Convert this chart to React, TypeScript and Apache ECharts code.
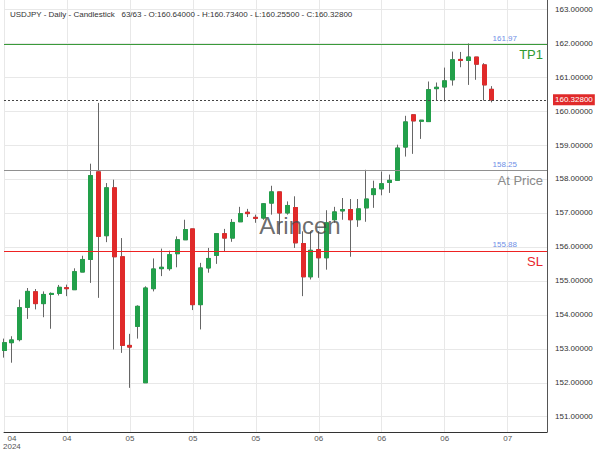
import React, { useEffect, useRef } from 'react';
import * as echarts from 'echarts';

const symbol = 'USDJPY';
const dates = [
  '2024-04-11', '2024-04-12', '2024-04-15', '2024-04-16', '2024-04-17', '2024-04-18', '2024-04-19',
  '2024-04-22', '2024-04-23', '2024-04-24', '2024-04-25', '2024-04-26', '2024-04-29', '2024-04-30',
  '2024-05-01', '2024-05-02', '2024-05-03', '2024-05-06', '2024-05-07', '2024-05-08', '2024-05-09',
  '2024-05-10', '2024-05-13', '2024-05-14', '2024-05-15', '2024-05-16', '2024-05-17', '2024-05-20',
  '2024-05-21', '2024-05-22', '2024-05-23', '2024-05-24', '2024-05-27', '2024-05-28', '2024-05-29',
  '2024-05-30', '2024-05-31', '2024-06-03', '2024-06-04', '2024-06-05', '2024-06-06', '2024-06-07',
  '2024-06-10', '2024-06-11', '2024-06-12', '2024-06-13', '2024-06-14', '2024-06-17', '2024-06-18',
  '2024-06-19', '2024-06-20', '2024-06-21', '2024-06-24', '2024-06-25', '2024-06-26', '2024-06-27',
  '2024-06-28', '2024-07-01', '2024-07-02', '2024-07-03', '2024-07-04', '2024-07-05', '2024-07-08',
  '2024-07-09', '2024-07-10', '2024-07-11', '2024-07-12', '2024-07-15', '2024-07-16', '2024-07-17',
];

const opens = [
  152.95, 153.18, 153.27, 154.22, 154.68, 154.33, 154.60, 154.63, 154.80, 154.74,
  155.26, 155.63, 158.21, 156.33, 157.74, 155.71, 153.10, 153.66, 152.00, 154.77,
  155.36, 155.36, 155.80, 156.21, 156.53, 154.30, 155.38, 155.75, 156.39, 156.26,
  156.74, 157.02, 156.87, 156.85, 157.29, 157.62, 157.00, 157.16, 156.10, 155.12,
  155.92, 155.68, 156.80, 157.06, 157.10, 156.80, 157.15, 157.54, 157.71, 157.90,
  157.96, 158.94, 159.89, 159.70, 159.69, 160.66, 160.71, 160.92, 161.52, 161.49,
  161.59, 161.36, 160.64,
];
const highs = [
  153.30, 153.37, 154.45, 154.79, 154.76, 154.69, 154.66, 154.88, 154.89, 155.37,
  155.74, 158.45, 160.24, 157.88, 157.98, 156.26, 153.44, 154.28, 154.84, 155.66,
  155.95, 155.89, 156.31, 156.80, 156.53, 155.53, 155.97, 156.39, 156.53, 156.82,
  157.18, 157.12, 156.95, 157.29, 157.80, 157.62, 157.34, 157.49, 156.46, 156.46,
  156.46, 157.08, 157.18, 157.44, 157.41, 157.41, 158.27, 157.95, 158.22, 158.13,
  159.01, 159.86, 159.91, 159.74, 160.87, 160.84, 161.28, 161.75, 161.74, 161.99,
  161.59, 161.41, 160.734,
];
const lows = [
  152.74, 152.59, 153.22, 153.88, 154.16, 153.93, 153.59, 154.57, 154.55, 154.74,
  155.26, 154.94, 154.50, 156.14, 152.98, 152.88, 151.85, 153.30, 152.00, 154.69,
  155.14, 155.30, 155.40, 156.21, 154.14, 153.57, 155.24, 155.50, 155.87, 156.15,
  156.74, 156.88, 156.71, 156.80, 156.95, 156.36, 156.95, 155.97, 154.55, 155.04,
  155.09, 155.33, 156.71, 156.80, 155.71, 156.59, 156.74, 157.15, 157.52, 157.59,
  157.96, 158.66, 158.74, 159.18, 159.68, 160.31, 160.28, 160.75, 161.29, 160.77,
  160.92, 160.31, 160.255,
];
const closes = [
  153.18, 153.26, 154.21, 154.69, 154.33, 154.60, 154.63, 154.81, 154.77, 155.27,
  155.63, 158.10, 156.31, 157.74, 155.71, 153.10, 153.05, 154.25, 154.79, 155.35,
  155.40, 155.77, 156.21, 156.51, 154.30, 155.38, 155.66, 156.39, 156.26, 156.72,
  156.98, 156.98, 156.84, 157.27, 157.62, 157.00, 157.22, 156.12, 155.12, 155.90,
  155.68, 156.71, 157.03, 157.10, 156.80, 157.12, 157.41, 157.71, 157.86, 157.96,
  158.91, 159.68, 159.71, 159.73, 160.63, 160.70, 160.89, 161.51, 161.49, 161.59,
  161.38, 160.77, 160.328,
];

const yTicks = [151, 152, 153, 154, 155, 156, 157, 158, 159, 160, 161, 162, 163];
const levelValues = [161.97, 158.25, 155.88];
const levelNames = ['TP1', 'At Price', 'SL'];
const levelLineColors = ['#3a9a3a', '#909090', '#ee2222'];
const levelTextColors = ['#2f9a2f', '#8a8a8a', '#e8262b'];

const GREEN = '#22a04a';
const RED = '#e02a2a';
const WICK = '#666666';
const FONT = '"Liberation Sans", Arial, sans-serif';

export default function App() {
  const ref = useRef<HTMLDivElement>(null);

  useEffect(() => {
    const chart = echarts.init(ref.current as HTMLDivElement, null, { renderer: 'svg' });
    const n = closes.length;
    const last = n - 1;
    const lastPrice = closes[last];

    const wickData = opens.map((o, i) => [o, closes[i], lows[i], highs[i]]);
    const bodyData = opens.map((o, i) => [o, closes[i], Math.min(o, closes[i]), Math.max(o, closes[i])]);

    const header =
      `${symbol} - Daily - Candlestick   ${n}/${n} - O:${opens[last].toFixed(5)} - H:${highs[last].toFixed(5)}` +
      ` - L:${lows[last].toFixed(5)} - C:${closes[last].toFixed(5)}`;

    const priceMarks: any[] = [
      {
        yAxis: lastPrice,
        lineStyle: { color: '#444', width: 1, type: [2, 2] },
        label: {
          show: true,
          position: 'end',
          formatter: lastPrice.toFixed(5),
          backgroundColor: RED,
          color: '#fff',
          fontSize: 8,
          fontFamily: FONT,
          padding: [2, 2, 1, 2],
          distance: 6,
        },
      },
    ];

    const levelSeries = levelValues.map((v, i) => ({
      type: 'line',
      name: levelNames[i],
      data: [],
      silent: true,
      z: 4,
      markLine: {
        silent: true,
        symbol: ['none', 'none'],
        animation: false,
        lineStyle: { color: levelLineColors[i], width: i === 2 ? 1.2 : 1, type: 'solid' },
        data: [
          {
            yAxis: v,
            label: {
              show: true,
              position: 'insideEndTop',
              formatter: v.toFixed(2),
              color: '#6e8fe6',
              fontSize: 8,
              fontFamily: FONT,
              distance: 2,
              padding: [0, 28, 0, 0],
            },
          },
          {
            yAxis: v,
            label: {
              show: true,
              position: 'insideEndBottom',
              formatter: levelNames[i],
              color: levelTextColors[i],
              fontSize: 13,
              fontFamily: FONT,
              distance: 4,
            },
          },
        ],
      },
    }));

    const option: any = {
      animation: false,
      textStyle: { fontFamily: FONT },
      title: {
        text: header,
        left: 5,
        top: 5,
        textStyle: { fontSize: 8, fontWeight: 'normal', color: '#333', fontFamily: FONT },
      },
      grid: { left: 2, right: 53, top: 0, bottom: 17 },
      xAxis: {
        type: 'category',
        data: dates,
        boundaryGap: false,
        axisLine: { show: true, lineStyle: { color: '#333', width: 1 } },
        axisTick: { show: false },
        axisLabel: {
          interval: (i: number) => i === 1 || (i > 0 && i % 8 === 0),
          formatter: (v: string, i: number) => (i === 1 ? `${v.slice(5, 7)}\n${v.slice(0, 4)}` : v.slice(5, 7)),
          fontSize: 8,
          color: '#555',
          margin: 2,
          lineHeight: 8,
          fontFamily: FONT,
        },
        splitLine: {
          show: true,
          interval: (i: number) => i % 8 === 0,
          lineStyle: { color: '#e8e8e8', width: 1 },
        },
      },
      yAxis: {
        type: 'value',
        position: 'right',
        min: 150.55,
        max: 163.27,
        scale: true,
        axisLine: { show: true, lineStyle: { color: '#555', width: 1 } },
        axisTick: { show: false, customValues: yTicks },
        axisLabel: {
          customValues: yTicks,
          formatter: (v: number) => v.toFixed(5),
          fontSize: 8,
          color: '#333',
          margin: 8,
          fontFamily: FONT,
        },
        splitLine: { show: true, lineStyle: { color: '#e8e8e8', width: 1 } },
      },
      graphic: [
        {
          type: 'text',
          left: 'center',
          top: 'middle',
          z: 100,
          silent: true,
          style: {
            text: 'Arincen',
            fontSize: 24,
            fontFamily: FONT,
            fill: 'rgba(70,70,70,0.8)',
          },
        },
      ],
      series: [
        {
          type: 'candlestick',
          name: 'wicks',
          data: wickData,
          barWidth: 4.5,
          clip: false,
          silent: true,
          itemStyle: {
            color: 'transparent',
            color0: 'transparent',
            borderColor: WICK,
            borderColor0: WICK,
            borderWidth: 1,
          },
          markLine: {
            silent: true,
            symbol: ['none', 'none'],
            animation: false,
            data: priceMarks,
          },
          z: 2,
        },
        {
          type: 'candlestick',
          name: 'bodies',
          data: bodyData,
          barWidth: 4.5,
          clip: false,
          silent: true,
          itemStyle: {
            color: GREEN,
            color0: RED,
            borderColor: GREEN,
            borderColor0: RED,
            borderWidth: 1,
          },
          z: 3,
        },
        ...levelSeries,
      ],
    };

    chart.setOption(option);
    return () => chart.dispose();
  }, []);

  return <div ref={ref} style={{ position: 'fixed', left: 0, top: 0, width: 600, height: 450, background: '#fff' }} />;
}
